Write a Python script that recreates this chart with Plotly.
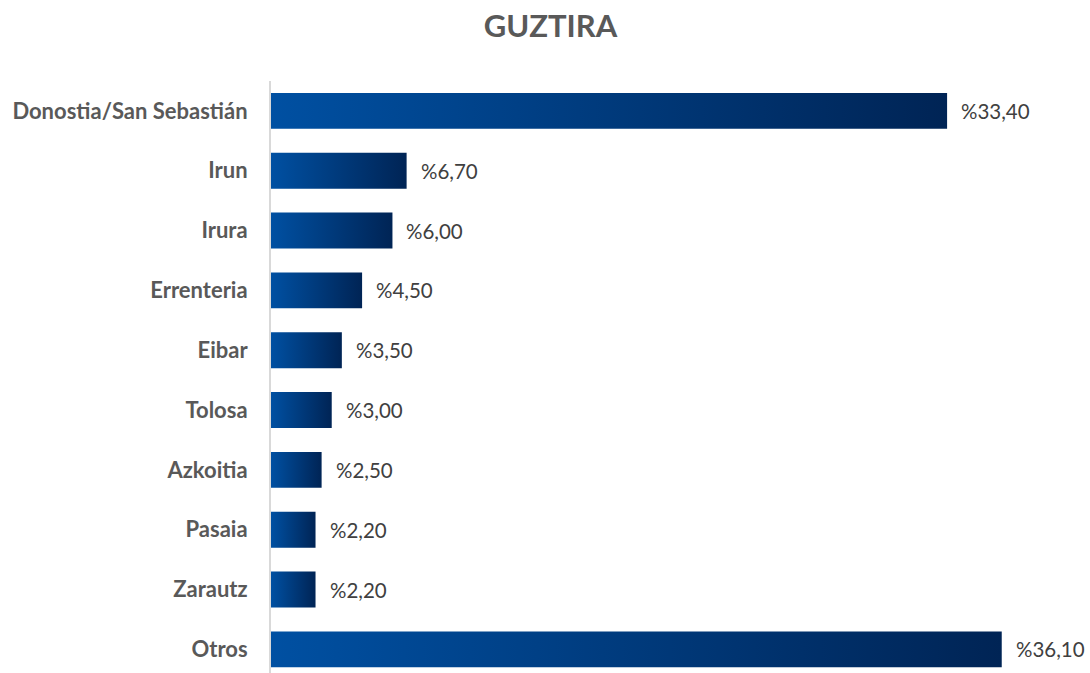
import plotly.graph_objects as go

categories = ["Donostia/San Sebastián", "Irun", "Irura", "Errenteria", "Eibar",
              "Tolosa", "Azkoitia", "Pasaia", "Zarautz", "Otros"]
values = [33.4, 6.7, 6.0, 4.5, 3.5, 3.0, 2.5, 2.2, 2.2, 36.1]
value_labels = ["%33,40", "%6,70", "%6,00", "%4,50", "%3,50",
                "%3,00", "%2,50", "%2,20", "%2,20", "%36,10"]

n = len(categories)
positions = [n - 1 - i for i in range(n)]  # top to bottom
half = 0.3
grad = [[0, "#0050A2"], [1, "#002455"]]

fig = go.Figure()
for cat, v, p in zip(categories, values, positions):
    fig.add_trace(go.Scatter(
        x=[0, v, v, 0, 0],
        y=[p - half, p - half, p + half, p + half, p - half],
        mode="lines", fill="toself",
        line=dict(width=0),
        fillgradient=dict(type="horizontal", colorscale=grad),
        hoverinfo="skip", showlegend=False, name=cat,
    ))

for v, p, lab in zip(values, positions, value_labels):
    fig.add_annotation(x=v, y=p, text=lab, showarrow=False, xanchor="left",
                       xshift=12, font=dict(family="Lato", size=20.5, color="#404040"))

fig.update_layout(
    width=1090, height=673,
    margin=dict(l=271, r=0, t=81, b=0),
    paper_bgcolor="white", plot_bgcolor="white",
    title=dict(text="<b>GUZTIRA</b>", x=0.505, xref="container", xanchor="center",
               y=0.961, yref="container", yanchor="middle",
               font=dict(family="Lato", size=31, color="#595959")),
    xaxis=dict(range=[0, 40.46], visible=False, fixedrange=True),
    yaxis=dict(range=[-0.395, 9.5], tickvals=positions,
               ticktext=["<b>%s</b>" % c for c in categories],
               showgrid=False, zeroline=False, showline=True,
               linecolor="#D9D9D9", linewidth=2, ticks="",
               ticklabelstandoff=17, fixedrange=True,
               tickfont=dict(family="Lato", size=22, color="#595959")),
)

fig.write_html("out.html", config={"displayModeBar": False},
               post_script="document.body.style.margin='0';document.body.style.overflow='hidden';")
